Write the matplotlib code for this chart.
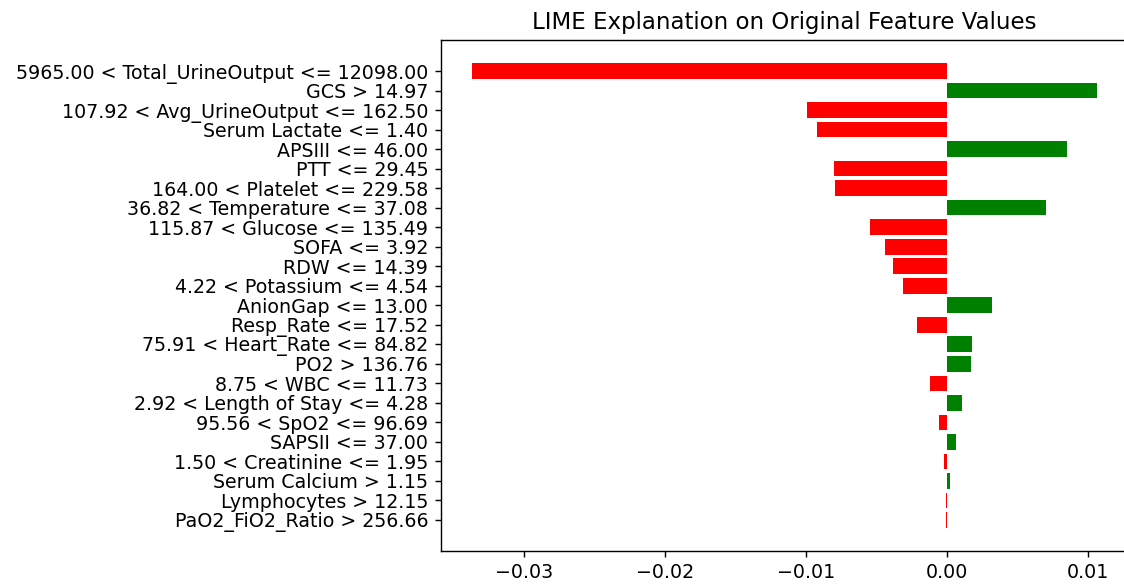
import matplotlib
matplotlib.use('Agg')
import matplotlib.pyplot as plt

# LIME feature conditions, top to bottom as in the chart
names = [
    '5965.00 < Total_UrineOutput <= 12098.00',
    'GCS > 14.97',
    '107.92 < Avg_UrineOutput <= 162.50',
    'Serum Lactate <= 1.40',
    'APSIII <= 46.00',
    'PTT <= 29.45',
    '164.00 < Platelet <= 229.58',
    '36.82 < Temperature <= 37.08',
    '115.87 < Glucose <= 135.49',
    'SOFA <= 3.92',
    'RDW <= 14.39',
    '4.22 < Potassium <= 4.54',
    'AnionGap <= 13.00',
    'Resp_Rate <= 17.52',
    '75.91 < Heart_Rate <= 84.82',
    'PO2 > 136.76',
    '8.75 < WBC <= 11.73',
    '2.92 < Length of Stay <= 4.28',
    '95.56 < SpO2 <= 96.69',
    'SAPSII <= 37.00',
    '1.50 < Creatinine <= 1.95',
    'Serum Calcium > 1.15',
    'Lymphocytes > 12.15',
    'PaO2_FiO2_Ratio > 256.66',
]
weights = [
    -0.03372, 0.01062, -0.00991, -0.00923, 0.00854, -0.00805, -0.00796, 0.00700,
    -0.00548, -0.00443, -0.00381, -0.00316, 0.00316, -0.00217, 0.00180, 0.00167,
    -0.00118, 0.00108, -0.00059, 0.00062, -0.00022, 0.00022, -0.00010, -0.00010,
]

# lime plots bottom-up, so reverse
vals = weights[::-1]
labs = names[::-1]
pos = list(range(len(vals)))
colors = ['green' if v > 0 else 'red' for v in vals]

dpi = 127
plt.rcParams['xtick.labelsize'] = 10.8
plt.rcParams['ytick.labelsize'] = 10.8
fig = plt.figure(figsize=(1124 / dpi, 585 / dpi), dpi=dpi)
ax = fig.add_axes([440.7 / 1124, 1 - 551 / 585, (1128 - 440.7) / 1124, (551 - 40) / 585])
ax.barh(pos, vals, align='center', color=colors)
ax.set_yticks(pos)
ax.set_yticklabels(labs)
ax.set_title('LIME Explanation on Original Feature Values', fontsize=13)

fig.savefig('out.png', dpi=dpi)
